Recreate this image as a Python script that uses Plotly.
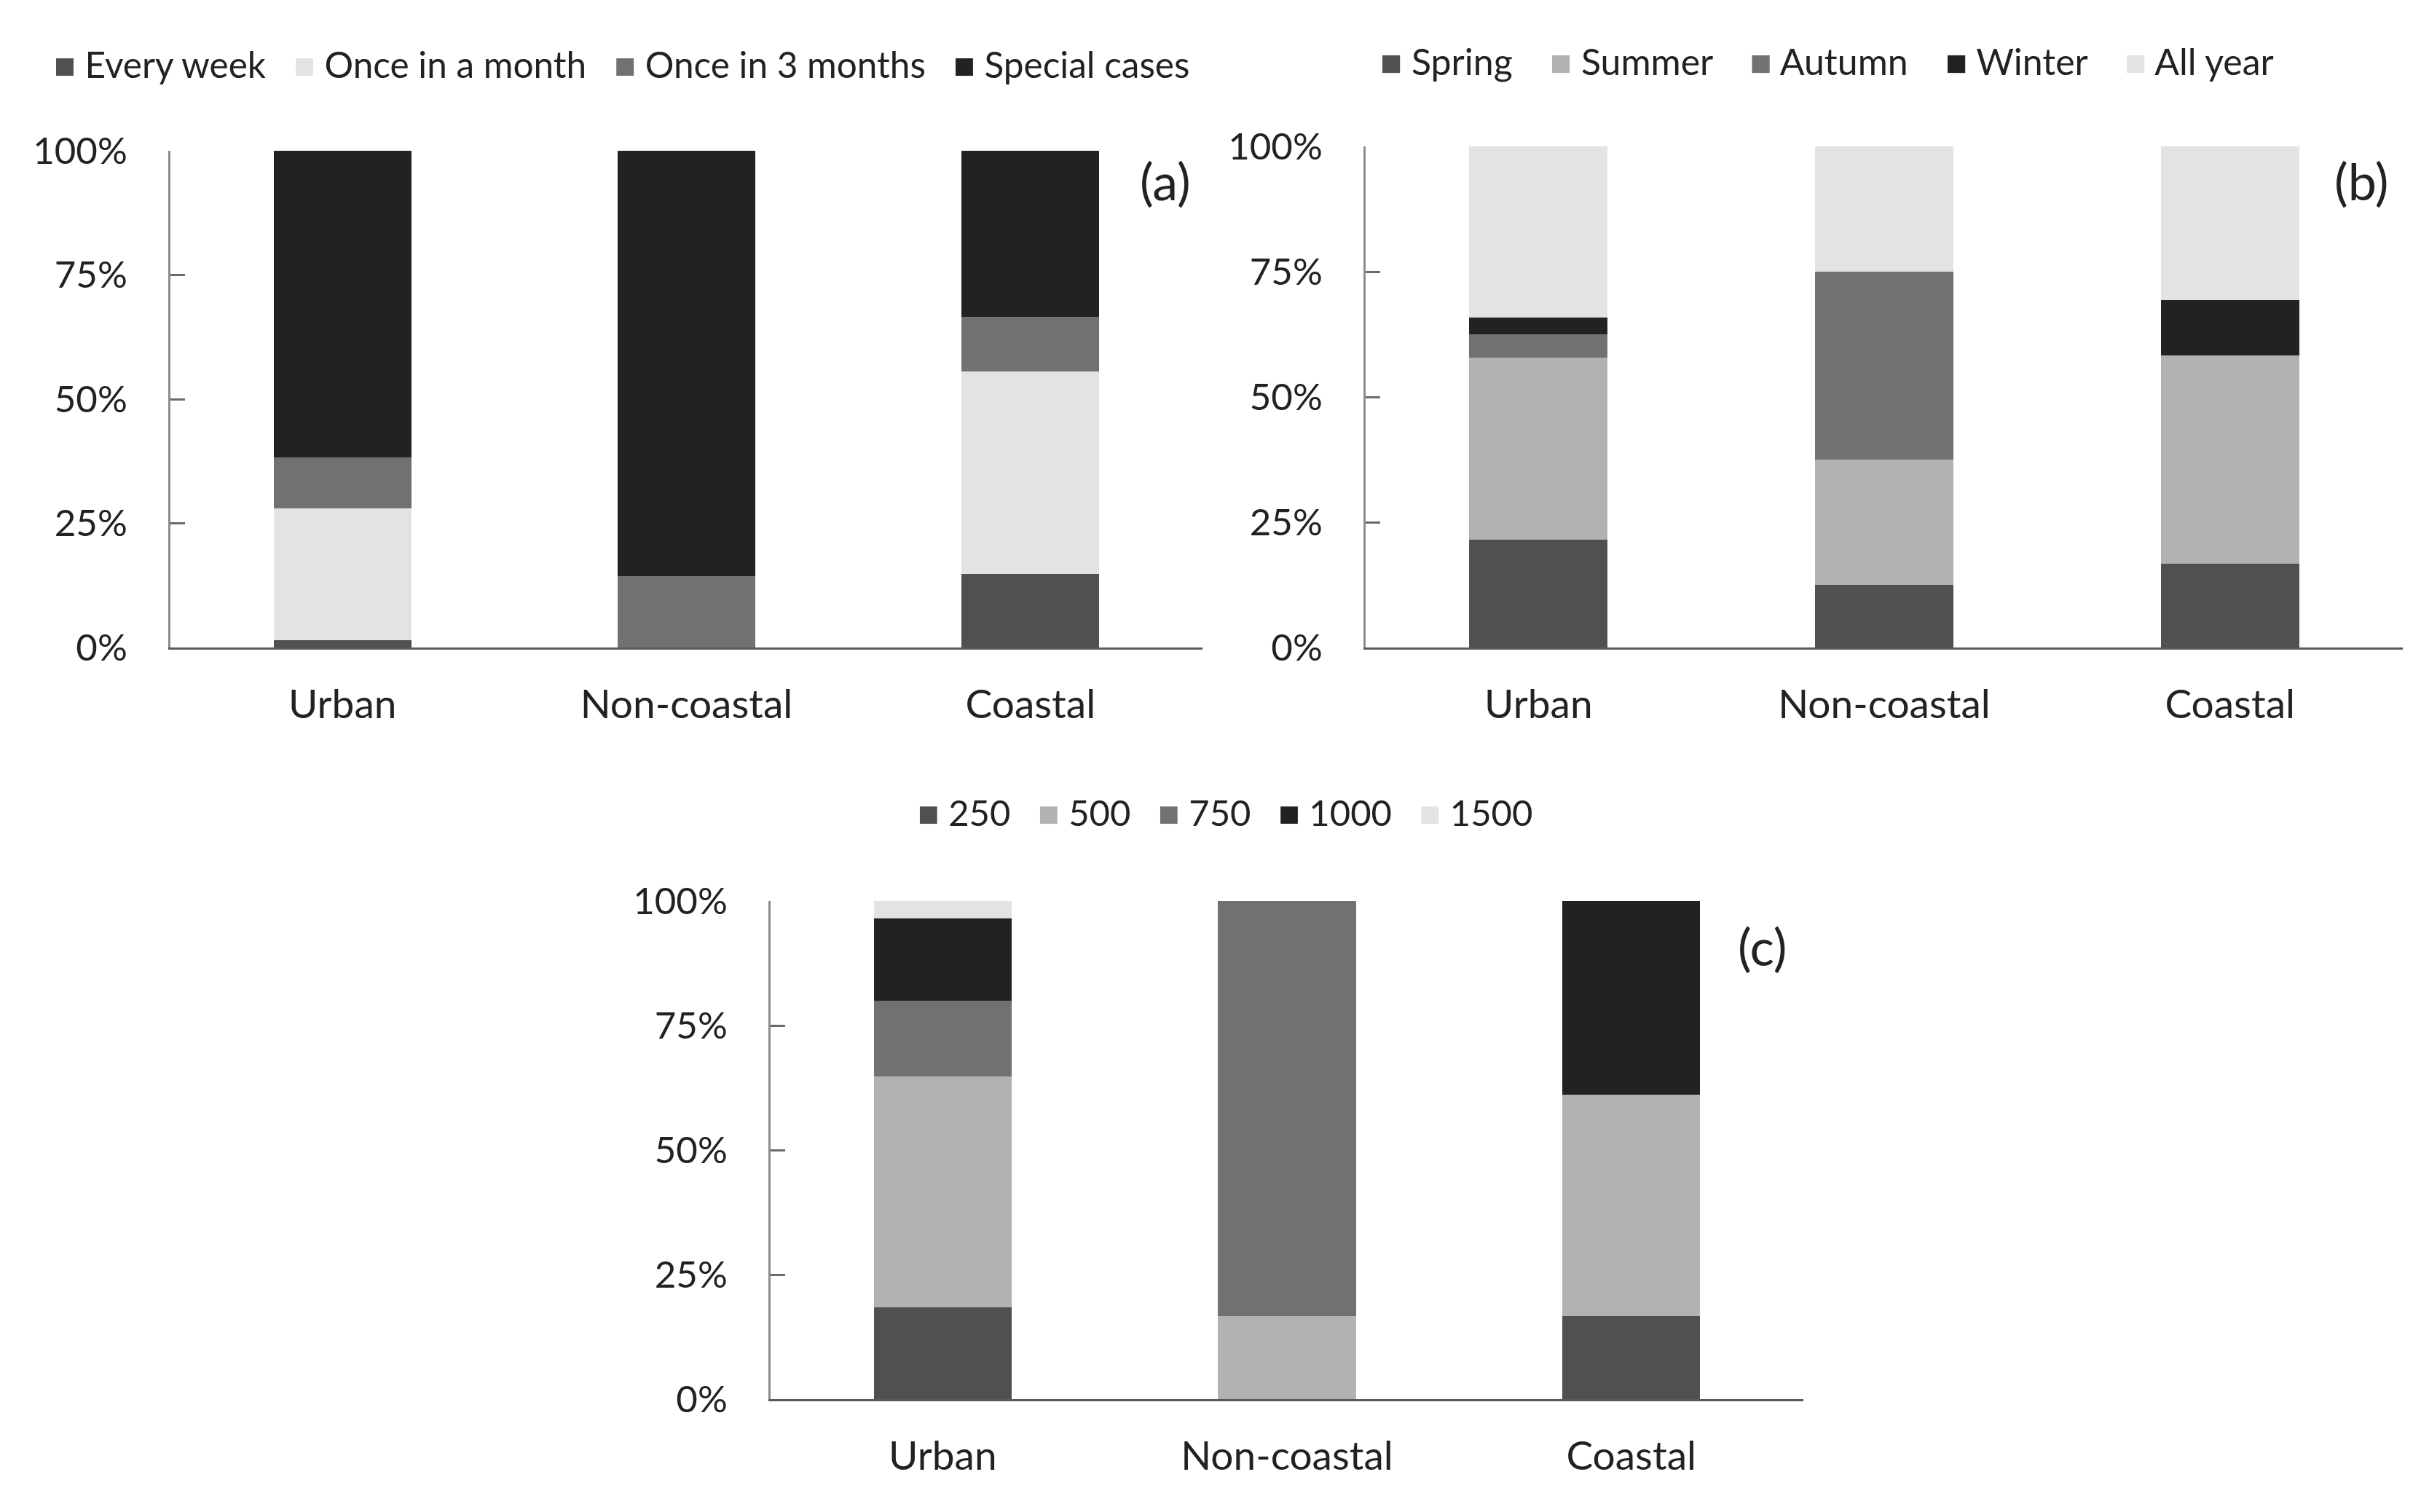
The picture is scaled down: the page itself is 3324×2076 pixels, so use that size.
import plotly.graph_objects as go

categories = ["Urban", "Non-coastal", "Coastal"]

# Panel (a): frequency
freq_names = ["Every week", "Once in a month", "Once in 3 months", "Special cases"]
every_week = [1.5, 0.0, 14.8]
once_month = [26.5, 0.0, 40.8]
once_3months = [10.2, 14.3, 11.0]
special_cases = [61.8, 85.7, 33.4]

# Panel (b): season
season_names = ["Spring", "Summer", "Autumn", "Winter", "All year"]
spring = [21.5, 12.5, 16.7]
summer = [36.4, 25.0, 41.6]
autumn = [4.6, 37.5, 0.0]
winter = [3.3, 0.0, 11.1]
all_year = [34.2, 25.0, 30.6]

# Panel (c): amount
amount_names = ["250", "500", "750", "1000", "1500"]
a250 = [18.4, 0.0, 16.7]
a500 = [46.4, 16.7, 44.4]
a750 = [15.2, 83.3, 0.0]
a1000 = [16.5, 0.0, 38.9]
a1500 = [3.5, 0.0, 0.0]

y_tickvals = [0, 25, 50, 75, 100]
y_ticktext = ["0%", "25%", "50%", "75%", "100%"]
panel_labels = ["(a)", "(b)", "(c)"]

C_DARK = "#505050"
C_LIGHT = "#e3e3e3"
C_MID = "#717171"
C_BLACK = "#222222"
C_GREY = "#b2b2b2"

FONT = "Lato"
TXT = "#222222"
W, H = 3324, 2076

fig = go.Figure()

panels = [
    ("x", "y", freq_names, [every_week, once_month, once_3months, special_cases],
     [C_DARK, C_LIGHT, C_MID, C_BLACK]),
    ("x2", "y2", season_names, [spring, summer, autumn, winter, all_year],
     [C_DARK, C_GREY, C_MID, C_BLACK, C_LIGHT]),
    ("x3", "y3", amount_names, [a250, a500, a750, a1000, a1500],
     [C_DARK, C_GREY, C_MID, C_BLACK, C_LIGHT]),
]

for xa, ya, names, series, cols in panels:
    for name, vals, col in zip(names, series, cols):
        fig.add_trace(go.Bar(x=categories, y=vals, name=name,
                             marker=dict(color=col, line=dict(width=0)),
                             xaxis=xa, yaxis=ya, showlegend=False))


def xdom(l, r):
    return [l / W, r / W]


def ydom(top, bottom):
    return [1 - bottom / H, 1 - top / H]


def xax(domain, anchor):
    return dict(domain=domain, anchor=anchor, showgrid=False, zeroline=False,
                showline=True, linecolor="#5a5a5a", linewidth=3, ticks="",
                tickfont=dict(family=FONT, size=55, color=TXT), ticklabelstandoff=28,
                range=[-0.5, 2.5], fixedrange=True, automargin=False)


def yax(domain, anchor):
    return dict(domain=domain, anchor=anchor, showgrid=False, zeroline=False,
                showline=True, linecolor="#8c8c8c", linewidth=3,
                range=[0, 100], tickvals=y_tickvals, ticktext=y_ticktext,
                ticks="inside", ticklen=20, tickwidth=3, tickcolor="#6a6a6a",
                tickfont=dict(family=FONT, size=51, color=TXT), ticklabelstandoff=46,
                fixedrange=True, automargin=False)


def legend_text(names, cols, gap):
    items = ['<span style="color:%s">\u25a0</span>&nbsp;%s' % (c, n) for n, c in zip(names, cols)]
    return ("&nbsp;" * gap).join(items)


legend_pos = [(72, 88), (1893, 84), (1258, 1115)]
legend_gaps = [3, 4, 3]
legend_sizes = [49.5, 50, 49]
label_pos = [(1600, 248), (3242, 248), (2420, 1299)]

annotations = []
for (xa, ya, names, series, cols), (lx, ly), gap, fs in zip(panels, legend_pos, legend_gaps, legend_sizes):
    annotations.append(dict(text=legend_text(names, cols, gap), x=lx / W, y=1 - ly / H,
                            xref="paper", yref="paper", xanchor="left", yanchor="middle",
                            showarrow=False, font=dict(family=FONT, size=fs, color=TXT)))
for lab, (px, py) in zip(panel_labels, label_pos):
    annotations.append(dict(text=lab, x=px / W, y=1 - py / H, xref="paper", yref="paper",
                            xanchor="center", yanchor="middle", showarrow=False,
                            font=dict(family=FONT, size=70, color=TXT)))

fig.update_layout(
    width=W, height=H,
    margin=dict(l=0, r=0, t=0, b=0, autoexpand=False),
    paper_bgcolor="white", plot_bgcolor="white",
    barmode="stack", bargap=0.6,
    showlegend=False,
    xaxis=xax(xdom(234, 1651), "y"),
    yaxis=yax(ydom(207, 889), "x"),
    xaxis2=xax(xdom(1875, 3299), "y2"),
    yaxis2=yax(ydom(201, 889), "x2"),
    xaxis3=xax(xdom(1058, 2476), "y3"),
    yaxis3=yax(ydom(1237, 1921), "x3"),
    annotations=annotations,
)

fig.write_html("out.html", config={"displayModeBar": False},
               post_script="document.body.style.margin='0';document.documentElement.style.overflow='hidden';")
